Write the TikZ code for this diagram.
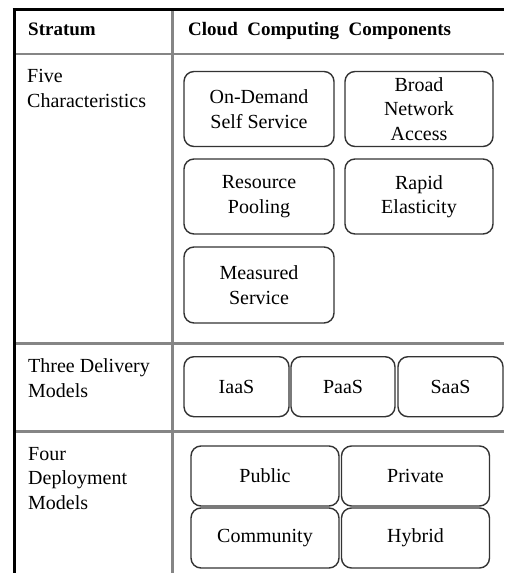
\documentclass[tikz,border=0pt]{standalone}
\usepackage{fontspec}
\setmainfont{Liberation Serif}
\definecolor{rulegray}{HTML}{858585}
\definecolor{boxgray}{HTML}{333333}
\begin{document}
\begin{tikzpicture}[x=1pt,y=-1pt,
  cell/.style={font=\fontsize{20}{24.5}\selectfont, inner sep=0pt, align=left, anchor=base west},
  head/.style={font=\fontsize{19}{24.5}\selectfont\bfseries, inner sep=0pt, anchor=base west},
  comp/.style={font=\fontsize{20}{24.5}\selectfont, draw=boxgray, line width=1.4pt,
               rounded corners=10pt, align=center, inner sep=0pt},
  rule/.style={draw=rulegray, line width=2.5pt},
  frame/.style={draw=black, line width=3pt}]

% canvas
\fill[white] (0,0) rectangle (504,573);
\useasboundingbox (0,0) rectangle (504,573);

% table rules
\draw[rule] (15.5,54) -- (504,54);
\draw[rule] (15.5,343.7) -- (504,343.7);
\draw[rule] (15.5,431.7) -- (504,431.7);
\draw[rule] (172.3,11) -- (172.3,573);
\draw[frame] (14.2,8) -- (14.2,573);
\draw[frame, line width=2.5pt] (12.7,9.5) -- (504,9.5);

% header row
\node[head] (hstrat) at (28,35) {Stratum};
\node[head] (hcomp) at (188,35) {Cloud~~Computing~~Components};

% stratum labels (anchored on the baseline of their last line)
\node[cell] (five)   at (27,107.3) {Five\\Characteristics};
\node[cell] (three)  at (28,397)   {Three Delivery\\Models};
\node[cell] (four)   at (28,509)   {Four\\Deployment\\Models};

% five characteristics
\node[comp, minimum width=150, minimum height=75] (ods) at (259,109)   {On-Demand\\Self Service};
\node[comp, minimum width=148, minimum height=75] (bna) at (419,109)   {Broad\\Network\\Access};
\node[comp, minimum width=150, minimum height=75] (rpo) at (259,196.5) {Resource\\Pooling};
\node[comp, minimum width=148, minimum height=75] (rel) at (419,196.5) {Rapid\\Elasticity};
\node[comp, minimum width=150, minimum height=76] (msv) at (259,285)   {Measured\\Service};

% delivery models
\node[comp, minimum width=105, minimum height=60] (iaas) at (236.5,386.7) {IaaS};
\node[comp, minimum width=104, minimum height=60] (paas) at (343,386.7)   {PaaS};
\node[comp, minimum width=105, minimum height=60] (saas) at (450.5,386.7) {SaaS};

% deployment models
\node[comp, minimum width=148, minimum height=60] (pub) at (265,476)   {Public};
\node[comp, minimum width=148, minimum height=60] (pri) at (415.5,476) {Private};
\node[comp, minimum width=148, minimum height=60] (com) at (265,538)   {Community};
\node[comp, minimum width=148, minimum height=60] (hyb) at (415.5,538) {Hybrid};
\end{tikzpicture}
\end{document}
